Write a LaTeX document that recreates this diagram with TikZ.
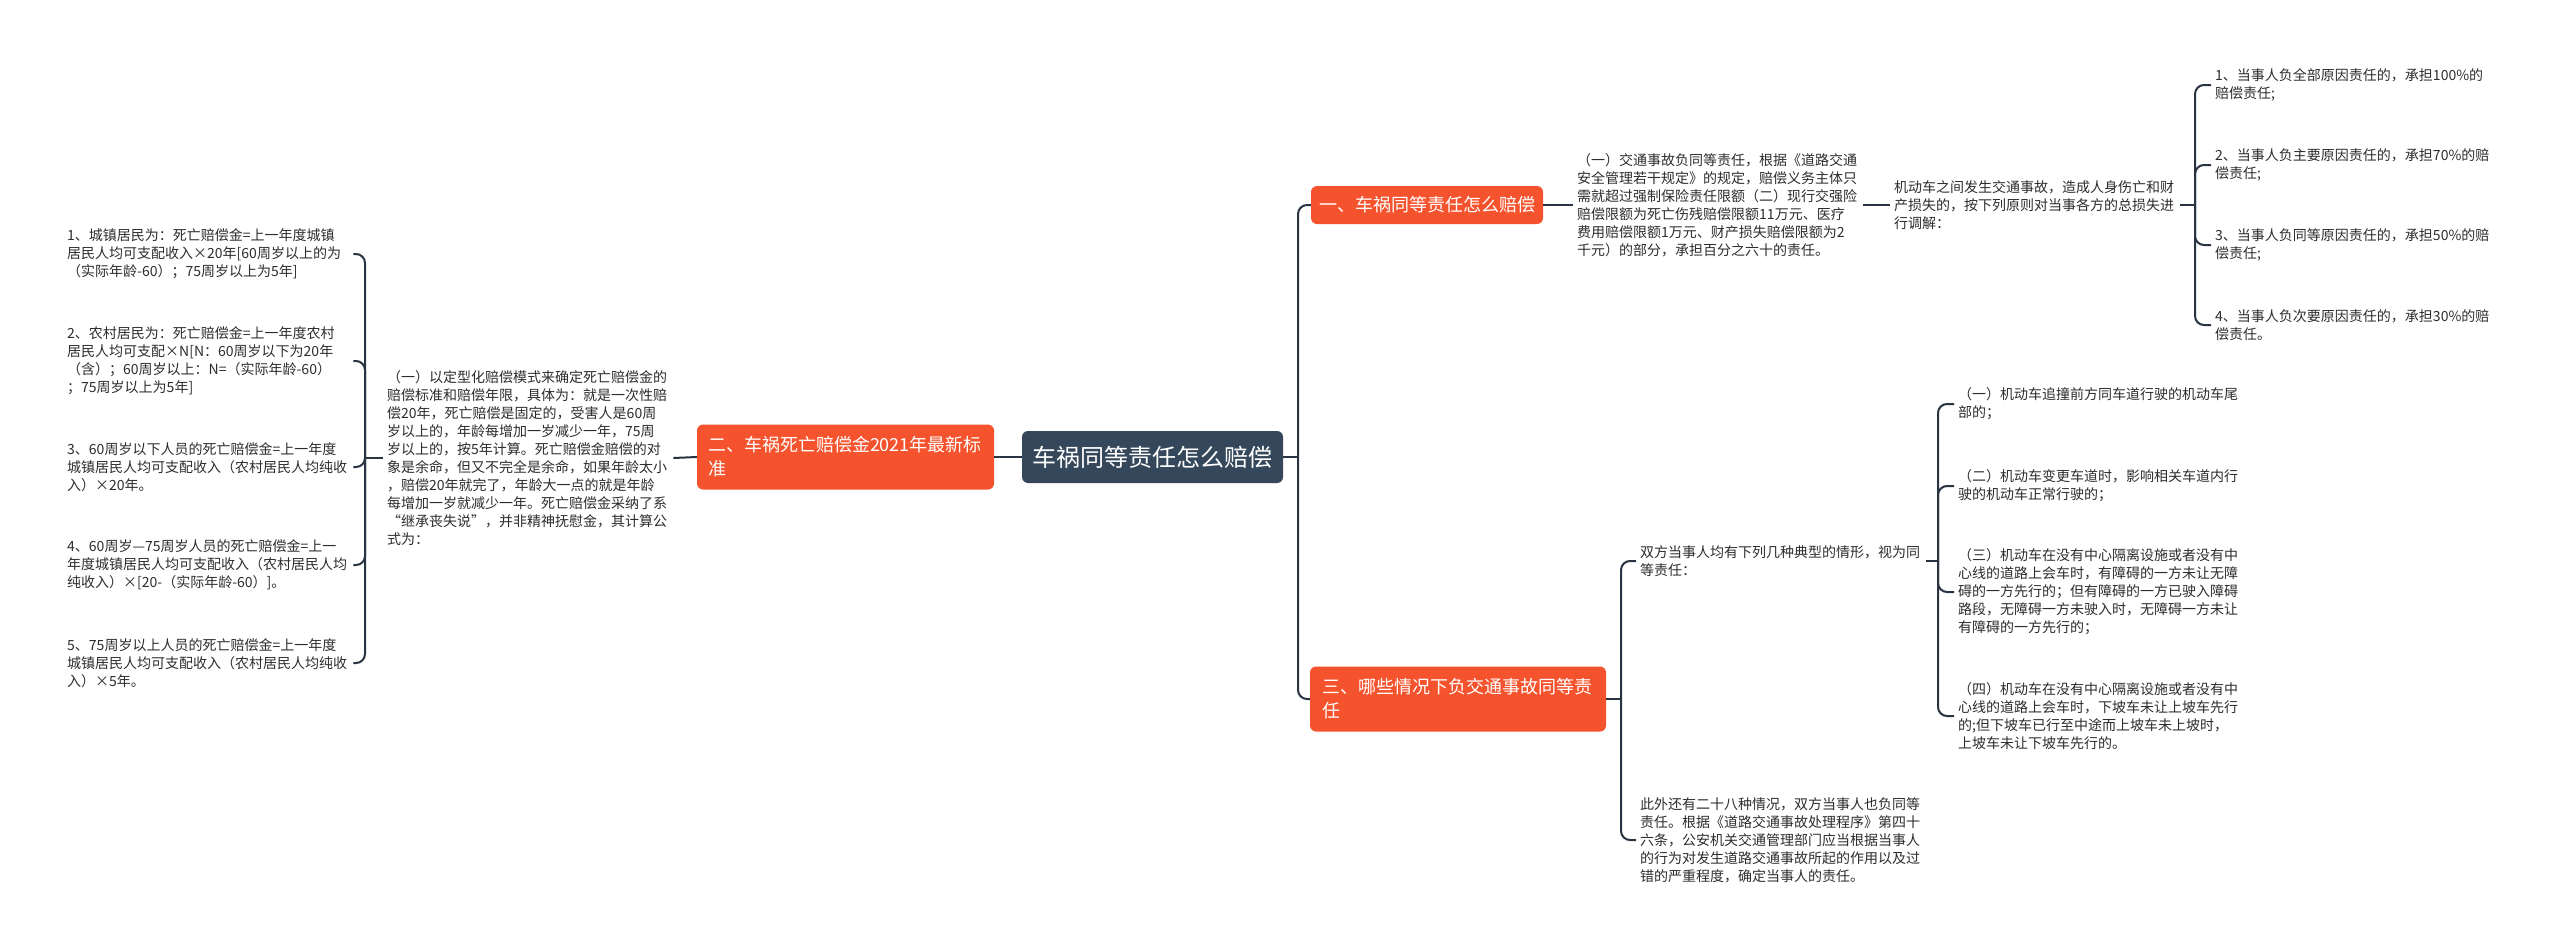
\documentclass[tikz,border=0pt]{standalone}
\usepackage{fontspec}
\setmainfont{Noto Sans CJK SC}
\usetikzlibrary{calc}
\definecolor{orangeb}{RGB}{245,83,45}
\definecolor{darkb}{RGB}{53,71,90}
\definecolor{linec}{RGB}{40,52,66}
\definecolor{bodyc}{RGB}{45,45,45}
\tikzset{
  body/.style={font=\fontsize{14}{18}\selectfont, text=bodyc, align=left, text width=282pt, inner xsep=4pt, inner ysep=0pt, anchor=west},
  branch/.style={font=\fontsize{18}{24}\selectfont, text=white, fill=orangeb, rounded corners=6pt, inner ysep=0pt},
  rootb/.style={font=\fontsize{24}{30}\selectfont, text=white, fill=darkb, rounded corners=6pt, minimum width=261pt, minimum height=52pt, inner sep=0pt},
  conn/.style={draw=linec, line width=2pt},
  hook/.style={draw=linec, line width=2pt, rounded corners=9pt},
}
\begin{document}
\begin{tikzpicture}[x=1pt,y=-1pt]
\useasboundingbox[fill=white] (0,0) rectangle (2560,951);

% root
\node[rootb] (root) at (1152.5,457) {车祸同等责任怎么赔偿};

% left branch
\node[branch, text width=275pt, align=left, inner xsep=11pt, minimum height=65pt] (b2) at (845.5,457) {二、车祸死亡赔偿金2021年最新标\\准};
\node[body] (b2t) at (383,458) {（一）以定型化赔偿模式来确定死亡赔偿金的\\赔偿标准和赔偿年限，具体为：就是一次性赔\\偿20年，死亡赔偿是固定的，受害人是60周\\岁以上的，年龄每增加一岁减少一年，75周\\岁以上的，按5年计算。死亡赔偿金赔偿的对\\象是余命，但又不完全是余命，如果年龄太小\\，赔偿20年就完了，年龄大一点的就是年龄\\每增加一岁就减少一年。死亡赔偿金采纳了系\\“继承丧失说”，并非精神抚慰金，其计算公\\式为：};
\node[body] (l1) at (63,254) {1、城镇居民为：死亡赔偿金=上一年度城镇\\居民人均可支配收入×20年[60周岁以上的为\\（实际年龄-60）；75周岁以上为5年]};
\node[body] (l2) at (63,361) {2、农村居民为：死亡赔偿金=上一年度农村\\居民人均可支配×N[N：60周岁以下为20年\\（含）；60周岁以上：N=（实际年龄-60）\\；75周岁以上为5年]};
\node[body] (l3) at (63,467) {3、60周岁以下人员的死亡赔偿金=上一年度\\城镇居民人均可支配收入（农村居民人均纯收\\入）×20年。};
\node[body] (l4) at (63,565) {4、60周岁—75周岁人员的死亡赔偿金=上一\\年度城镇居民人均可支配收入（农村居民人均\\纯收入）×[20-（实际年龄-60）]。};
\node[body] (l5) at (63,663) {5、75周岁以上人员的死亡赔偿金=上一年度\\城镇居民人均可支配收入（农村居民人均纯收\\入）×5年。};

% right branch 1
\node[branch, minimum width=232pt, minimum height=38pt, inner xsep=0pt] (b1) at (1427,205) {一、车祸同等责任怎么赔偿};
\node[body] (b1t) at (1573,205) {（一）交通事故负同等责任，根据《道路交通\\安全管理若干规定》的规定，赔偿义务主体只\\需就超过强制保险责任限额（二）现行交强险\\赔偿限额为死亡伤残赔偿限额11万元、医疗\\费用赔偿限额1万元、财产损失赔偿限额为2\\千元）的部分，承担百分之六十的责任。};
\node[body] (b1m) at (1890,205) {机动车之间发生交通事故，造成人身伤亡和财\\产损失的，按下列原则对当事各方的总损失进\\行调解：};
\node[body] (r1) at (2211,85) {1、当事人负全部原因责任的，承担100\%的\\赔偿责任;};
\node[body] (r2) at (2211,165) {2、当事人负主要原因责任的，承担70\%的赔\\偿责任;};
\node[body] (r3) at (2211,245) {3、当事人负同等原因责任的，承担50\%的赔\\偿责任;};
\node[body] (r4) at (2211,325) {4、当事人负次要原因责任的，承担30\%的赔\\偿责任。};

% right branch 3
\node[branch, text width=272pt, align=left, inner xsep=12pt, minimum height=65pt] (b3) at (1458,699) {三、哪些情况下负交通事故同等责\\任};
\node[body] (s1) at (1636,561) {双方当事人均有下列几种典型的情形，视为同\\等责任：};
\node[body] (s2) at (1636,840) {此外还有二十八种情况，双方当事人也负同等\\责任。根据《道路交通事故处理程序》第四十\\六条，公安机关交通管理部门应当根据当事人\\的行为对发生道路交通事故所起的作用以及过\\错的严重程度，确定当事人的责任。};
\node[body] (q1) at (1954,404) {（一）机动车追撞前方同车道行驶的机动车尾\\部的；};
\node[body] (q2) at (1954,486) {（二）机动车变更车道时，影响相关车道内行\\驶的机动车正常行驶的；};
\node[body] (q3) at (1954,592) {（三）机动车在没有中心隔离设施或者没有中\\心线的道路上会车时，有障碍的一方未让无障\\碍的一方先行的；但有障碍的一方已驶入障碍\\路段，无障碍一方未驶入时，无障碍一方未让\\有障碍的一方先行的；};
\node[body] (q4) at (1954,716) {（四）机动车在没有中心隔离设施或者没有中\\心线的道路上会车时，下坡车未让上坡车先行\\的;但下坡车已行至中途而上坡车未上坡时，\\上坡车未让下坡车先行的。};

% connectors: root left
\draw[conn] (root.west) -- (b2.east);
\draw[conn] (b2.west) -- (b2t.east);
\coordinate (busL) at (365,458);
\draw[conn] (b2t.west) -- (busL);
\foreach \c in {l1,l2,l3,l4,l5} \draw[hook] (busL) |- (\c.east);

% root right
\coordinate (busR) at (1298,457);
\draw[conn] (root.east) -- (busR);
\draw[hook] (busR) |- (b1.west);
\draw[hook] (busR) |- (b3.west);

\draw[conn] (b1.east) -- (b1t.west);
\draw[conn] (b1t.east) -- (b1m.west);
\coordinate (busR1) at (2195,205);
\draw[conn] (b1m.east) -- (busR1);
\foreach \c in {r1,r2,r3,r4} \draw[hook] (busR1) |- (\c.west);

\coordinate (busR3) at (1621,699);
\draw[conn] (b3.east) -- (busR3);
\draw[hook] (busR3) |- (s1.west);
\draw[hook] (busR3) |- (s2.west);

\coordinate (busS) at (1938,561);
\draw[conn] (s1.east) -- (busS);
\foreach \c in {q1,q2,q3,q4} \draw[hook] (busS) |- (\c.west);
\end{tikzpicture}
\end{document}
